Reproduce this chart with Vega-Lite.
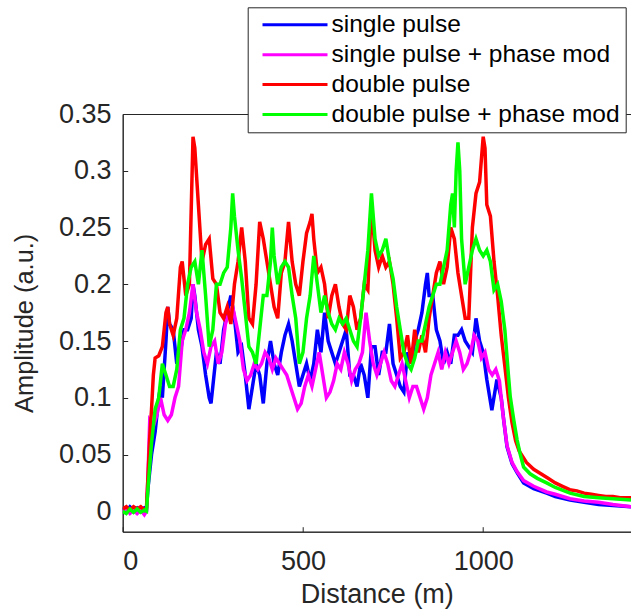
{
  "$schema": "https://vega.github.io/schema/vega-lite/v6.json",
  "autosize": {"type": "none"},
  "padding": {"left": 122.7, "top": 114, "right": 0, "bottom": 77.3},
  "width": 508.3,
  "height": 417.7,
  "background": "white",
  "config": {
    "font": "Liberation Sans",
    "view": {"stroke": "#262626", "strokeWidth": 1},
    "axis": {
      "domainColor": "#262626", "tickColor": "#262626", "labelColor": "#262626", "titleColor": "#262626",
      "labelFont": "Liberation Sans", "titleFont": "Liberation Sans",
      "labelFontSize": 27, "titleFontSize": 27, "titleFontWeight": "normal",
      "grid": false, "tickSize": -5
    }
  },
  "data": {"values": [
    {"s":"single pulse","d":0,"v":0.003},{"s":"single pulse","d":10,"v":0.0},{"s":"single pulse","d":20,"v":0.004},{"s":"single pulse","d":30,"v":0.001},{"s":"single pulse","d":40,"v":0.003},{"s":"single pulse","d":50,"v":0.0},{"s":"single pulse","d":60,"v":0.003},{"s":"single pulse","d":66,"v":0.002},
    {"s":"single pulse","d":70,"v":0.02},{"s":"single pulse","d":80,"v":0.05},{"s":"single pulse","d":90,"v":0.07},{"s":"single pulse","d":100,"v":0.1},{"s":"single pulse","d":105,"v":0.11},{"s":"single pulse","d":110,"v":0.1},{"s":"single pulse","d":120,"v":0.15},{"s":"single pulse","d":125,"v":0.18},{"s":"single pulse","d":130,"v":0.165},{"s":"single pulse","d":140,"v":0.16},{"s":"single pulse","d":150,"v":0.13},{"s":"single pulse","d":160,"v":0.14},{"s":"single pulse","d":170,"v":0.16},{"s":"single pulse","d":180,"v":0.16},{"s":"single pulse","d":190,"v":0.17},{"s":"single pulse","d":195,"v":0.2},{"s":"single pulse","d":200,"v":0.19},{"s":"single pulse","d":210,"v":0.16},{"s":"single pulse","d":220,"v":0.145},{"s":"single pulse","d":230,"v":0.12},{"s":"single pulse","d":240,"v":0.1},{"s":"single pulse","d":245,"v":0.095},{"s":"single pulse","d":250,"v":0.11},{"s":"single pulse","d":260,"v":0.14},{"s":"single pulse","d":270,"v":0.13},{"s":"single pulse","d":280,"v":0.16},{"s":"single pulse","d":290,"v":0.175},{"s":"single pulse","d":300,"v":0.19},{"s":"single pulse","d":310,"v":0.17},{"s":"single pulse","d":320,"v":0.14},{"s":"single pulse","d":330,"v":0.145},{"s":"single pulse","d":340,"v":0.12},{"s":"single pulse","d":350,"v":0.09},{"s":"single pulse","d":360,"v":0.11},{"s":"single pulse","d":370,"v":0.13},{"s":"single pulse","d":380,"v":0.12},{"s":"single pulse","d":390,"v":0.095},{"s":"single pulse","d":400,"v":0.13},{"s":"single pulse","d":410,"v":0.15},{"s":"single pulse","d":420,"v":0.13},{"s":"single pulse","d":430,"v":0.12},{"s":"single pulse","d":440,"v":0.14},{"s":"single pulse","d":450,"v":0.155},{"s":"single pulse","d":460,"v":0.165},{"s":"single pulse","d":470,"v":0.15},{"s":"single pulse","d":480,"v":0.13},{"s":"single pulse","d":490,"v":0.11},{"s":"single pulse","d":500,"v":0.12},{"s":"single pulse","d":510,"v":0.13},{"s":"single pulse","d":520,"v":0.115},{"s":"single pulse","d":530,"v":0.13},{"s":"single pulse","d":540,"v":0.16},{"s":"single pulse","d":550,"v":0.14},{"s":"single pulse","d":560,"v":0.175},{"s":"single pulse","d":570,"v":0.15},{"s":"single pulse","d":580,"v":0.14},{"s":"single pulse","d":590,"v":0.13},{"s":"single pulse","d":600,"v":0.14},{"s":"single pulse","d":610,"v":0.15},{"s":"single pulse","d":620,"v":0.16},{"s":"single pulse","d":630,"v":0.12},{"s":"single pulse","d":640,"v":0.12},{"s":"single pulse","d":650,"v":0.11},{"s":"single pulse","d":660,"v":0.13},{"s":"single pulse","d":670,"v":0.12},{"s":"single pulse","d":680,"v":0.1},{"s":"single pulse","d":690,"v":0.145},{"s":"single pulse","d":700,"v":0.145},{"s":"single pulse","d":710,"v":0.12},{"s":"single pulse","d":720,"v":0.14},{"s":"single pulse","d":730,"v":0.14},{"s":"single pulse","d":740,"v":0.165},{"s":"single pulse","d":750,"v":0.13},{"s":"single pulse","d":760,"v":0.12},{"s":"single pulse","d":770,"v":0.11},{"s":"single pulse","d":780,"v":0.105},{"s":"single pulse","d":790,"v":0.14},{"s":"single pulse","d":800,"v":0.13},{"s":"single pulse","d":810,"v":0.15},{"s":"single pulse","d":820,"v":0.16},{"s":"single pulse","d":830,"v":0.175},{"s":"single pulse","d":840,"v":0.2},{"s":"single pulse","d":845,"v":0.21},{"s":"single pulse","d":850,"v":0.19},{"s":"single pulse","d":860,"v":0.19},{"s":"single pulse","d":870,"v":0.16},{"s":"single pulse","d":880,"v":0.15},{"s":"single pulse","d":890,"v":0.13},{"s":"single pulse","d":900,"v":0.14},{"s":"single pulse","d":910,"v":0.13},{"s":"single pulse","d":920,"v":0.155},{"s":"single pulse","d":930,"v":0.155},{"s":"single pulse","d":940,"v":0.16},{"s":"single pulse","d":950,"v":0.15},{"s":"single pulse","d":960,"v":0.145},{"s":"single pulse","d":970,"v":0.14},{"s":"single pulse","d":980,"v":0.17},{"s":"single pulse","d":990,"v":0.15},{"s":"single pulse","d":1000,"v":0.14},{"s":"single pulse","d":1010,"v":0.116},{"s":"single pulse","d":1024,"v":0.089},{"s":"single pulse","d":1038,"v":0.116},{"s":"single pulse","d":1050,"v":0.1},{"s":"single pulse","d":1057,"v":0.08},{"s":"single pulse","d":1066,"v":0.057},{"s":"single pulse","d":1080,"v":0.042},{"s":"single pulse","d":1094,"v":0.034},{"s":"single pulse","d":1112,"v":0.025},{"s":"single pulse","d":1140,"v":0.02},{"s":"single pulse","d":1176,"v":0.016},{"s":"single pulse","d":1200,"v":0.013},{"s":"single pulse","d":1241,"v":0.01},{"s":"single pulse","d":1280,"v":0.008},{"s":"single pulse","d":1320,"v":0.006},{"s":"single pulse","d":1360,"v":0.005},{"s":"single pulse","d":1410,"v":0.004},

    {"s":"single pulse + phase mod","d":0,"v":0.0},{"s":"single pulse + phase mod","d":10,"v":0.002},{"s":"single pulse + phase mod","d":20,"v":-0.002},{"s":"single pulse + phase mod","d":30,"v":0.001},{"s":"single pulse + phase mod","d":40,"v":-0.002},{"s":"single pulse + phase mod","d":50,"v":0.001},{"s":"single pulse + phase mod","d":60,"v":-0.003},{"s":"single pulse + phase mod","d":66,"v":0.0},
    {"s":"single pulse + phase mod","d":70,"v":0.03},{"s":"single pulse + phase mod","d":75,"v":0.08},{"s":"single pulse + phase mod","d":85,"v":0.075},{"s":"single pulse + phase mod","d":95,"v":0.085},{"s":"single pulse + phase mod","d":105,"v":0.1},{"s":"single pulse + phase mod","d":115,"v":0.085},{"s":"single pulse + phase mod","d":125,"v":0.08},{"s":"single pulse + phase mod","d":135,"v":0.085},{"s":"single pulse + phase mod","d":145,"v":0.1},{"s":"single pulse + phase mod","d":155,"v":0.11},{"s":"single pulse + phase mod","d":165,"v":0.15},{"s":"single pulse + phase mod","d":175,"v":0.16},{"s":"single pulse + phase mod","d":185,"v":0.175},{"s":"single pulse + phase mod","d":195,"v":0.2},{"s":"single pulse + phase mod","d":205,"v":0.175},{"s":"single pulse + phase mod","d":215,"v":0.16},{"s":"single pulse + phase mod","d":225,"v":0.14},{"s":"single pulse + phase mod","d":235,"v":0.13},{"s":"single pulse + phase mod","d":245,"v":0.145},{"s":"single pulse + phase mod","d":255,"v":0.15},{"s":"single pulse + phase mod","d":265,"v":0.13},{"s":"single pulse + phase mod","d":275,"v":0.14},{"s":"single pulse + phase mod","d":285,"v":0.165},{"s":"single pulse + phase mod","d":295,"v":0.175},{"s":"single pulse + phase mod","d":305,"v":0.18},{"s":"single pulse + phase mod","d":315,"v":0.165},{"s":"single pulse + phase mod","d":325,"v":0.15},{"s":"single pulse + phase mod","d":335,"v":0.125},{"s":"single pulse + phase mod","d":345,"v":0.115},{"s":"single pulse + phase mod","d":355,"v":0.12},{"s":"single pulse + phase mod","d":365,"v":0.13},{"s":"single pulse + phase mod","d":375,"v":0.125},{"s":"single pulse + phase mod","d":385,"v":0.13},{"s":"single pulse + phase mod","d":395,"v":0.14},{"s":"single pulse + phase mod","d":405,"v":0.135},{"s":"single pulse + phase mod","d":415,"v":0.125},{"s":"single pulse + phase mod","d":425,"v":0.135},{"s":"single pulse + phase mod","d":435,"v":0.13},{"s":"single pulse + phase mod","d":445,"v":0.125},{"s":"single pulse + phase mod","d":455,"v":0.12},{"s":"single pulse + phase mod","d":465,"v":0.11},{"s":"single pulse + phase mod","d":475,"v":0.1},{"s":"single pulse + phase mod","d":485,"v":0.09},{"s":"single pulse + phase mod","d":495,"v":0.095},{"s":"single pulse + phase mod","d":505,"v":0.11},{"s":"single pulse + phase mod","d":515,"v":0.12},{"s":"single pulse + phase mod","d":525,"v":0.11},{"s":"single pulse + phase mod","d":535,"v":0.125},{"s":"single pulse + phase mod","d":545,"v":0.14},{"s":"single pulse + phase mod","d":555,"v":0.12},{"s":"single pulse + phase mod","d":565,"v":0.1},{"s":"single pulse + phase mod","d":575,"v":0.105},{"s":"single pulse + phase mod","d":585,"v":0.115},{"s":"single pulse + phase mod","d":595,"v":0.13},{"s":"single pulse + phase mod","d":605,"v":0.125},{"s":"single pulse + phase mod","d":615,"v":0.14},{"s":"single pulse + phase mod","d":625,"v":0.13},{"s":"single pulse + phase mod","d":635,"v":0.115},{"s":"single pulse + phase mod","d":645,"v":0.125},{"s":"single pulse + phase mod","d":655,"v":0.13},{"s":"single pulse + phase mod","d":665,"v":0.14},{"s":"single pulse + phase mod","d":675,"v":0.175},{"s":"single pulse + phase mod","d":685,"v":0.15},{"s":"single pulse + phase mod","d":695,"v":0.13},{"s":"single pulse + phase mod","d":705,"v":0.12},{"s":"single pulse + phase mod","d":715,"v":0.13},{"s":"single pulse + phase mod","d":725,"v":0.14},{"s":"single pulse + phase mod","d":735,"v":0.13},{"s":"single pulse + phase mod","d":745,"v":0.115},{"s":"single pulse + phase mod","d":755,"v":0.11},{"s":"single pulse + phase mod","d":765,"v":0.12},{"s":"single pulse + phase mod","d":775,"v":0.13},{"s":"single pulse + phase mod","d":785,"v":0.115},{"s":"single pulse + phase mod","d":795,"v":0.1},{"s":"single pulse + phase mod","d":805,"v":0.11},{"s":"single pulse + phase mod","d":815,"v":0.11},{"s":"single pulse + phase mod","d":825,"v":0.1},{"s":"single pulse + phase mod","d":835,"v":0.09},{"s":"single pulse + phase mod","d":845,"v":0.1},{"s":"single pulse + phase mod","d":855,"v":0.12},{"s":"single pulse + phase mod","d":865,"v":0.13},{"s":"single pulse + phase mod","d":875,"v":0.14},{"s":"single pulse + phase mod","d":885,"v":0.125},{"s":"single pulse + phase mod","d":895,"v":0.14},{"s":"single pulse + phase mod","d":905,"v":0.13},{"s":"single pulse + phase mod","d":915,"v":0.14},{"s":"single pulse + phase mod","d":925,"v":0.15},{"s":"single pulse + phase mod","d":935,"v":0.14},{"s":"single pulse + phase mod","d":945,"v":0.125},{"s":"single pulse + phase mod","d":955,"v":0.13},{"s":"single pulse + phase mod","d":965,"v":0.14},{"s":"single pulse + phase mod","d":975,"v":0.155},{"s":"single pulse + phase mod","d":985,"v":0.15},{"s":"single pulse + phase mod","d":995,"v":0.135},{"s":"single pulse + phase mod","d":1005,"v":0.14},{"s":"single pulse + phase mod","d":1015,"v":0.125},{"s":"single pulse + phase mod","d":1025,"v":0.12},{"s":"single pulse + phase mod","d":1035,"v":0.125},{"s":"single pulse + phase mod","d":1045,"v":0.115},{"s":"single pulse + phase mod","d":1055,"v":0.085},{"s":"single pulse + phase mod","d":1066,"v":0.058},{"s":"single pulse + phase mod","d":1080,"v":0.043},{"s":"single pulse + phase mod","d":1094,"v":0.035},{"s":"single pulse + phase mod","d":1112,"v":0.027},{"s":"single pulse + phase mod","d":1140,"v":0.022},{"s":"single pulse + phase mod","d":1176,"v":0.017},{"s":"single pulse + phase mod","d":1200,"v":0.015},{"s":"single pulse + phase mod","d":1241,"v":0.011},{"s":"single pulse + phase mod","d":1280,"v":0.009},{"s":"single pulse + phase mod","d":1320,"v":0.008},{"s":"single pulse + phase mod","d":1360,"v":0.006},{"s":"single pulse + phase mod","d":1410,"v":0.004},

    {"s":"double pulse","d":0,"v":0.002},{"s":"double pulse","d":10,"v":0.004},{"s":"double pulse","d":20,"v":0.001},{"s":"double pulse","d":30,"v":0.004},{"s":"double pulse","d":40,"v":0.002},{"s":"double pulse","d":50,"v":0.004},{"s":"double pulse","d":60,"v":0.001},{"s":"double pulse","d":66,"v":0.003},
    {"s":"double pulse","d":70,"v":0.03},{"s":"double pulse","d":75,"v":0.065},{"s":"double pulse","d":80,"v":0.09},{"s":"double pulse","d":85,"v":0.12},{"s":"double pulse","d":90,"v":0.135},{"s":"double pulse","d":100,"v":0.137},{"s":"double pulse","d":110,"v":0.145},{"s":"double pulse","d":120,"v":0.175},{"s":"double pulse","d":125,"v":0.18},{"s":"double pulse","d":130,"v":0.165},{"s":"double pulse","d":140,"v":0.155},{"s":"double pulse","d":150,"v":0.17},{"s":"double pulse","d":160,"v":0.215},{"s":"double pulse","d":165,"v":0.22},{"s":"double pulse","d":175,"v":0.19},{"s":"double pulse","d":185,"v":0.2},{"s":"double pulse","d":195,"v":0.33},{"s":"double pulse","d":200,"v":0.32},{"s":"double pulse","d":210,"v":0.27},{"s":"double pulse","d":220,"v":0.22},{"s":"double pulse","d":230,"v":0.235},{"s":"double pulse","d":240,"v":0.24},{"s":"double pulse","d":250,"v":0.205},{"s":"double pulse","d":260,"v":0.2},{"s":"double pulse","d":270,"v":0.175},{"s":"double pulse","d":280,"v":0.17},{"s":"double pulse","d":290,"v":0.18},{"s":"double pulse","d":300,"v":0.165},{"s":"double pulse","d":310,"v":0.2},{"s":"double pulse","d":320,"v":0.22},{"s":"double pulse","d":330,"v":0.25},{"s":"double pulse","d":340,"v":0.22},{"s":"double pulse","d":350,"v":0.17},{"s":"double pulse","d":360,"v":0.165},{"s":"double pulse","d":370,"v":0.2},{"s":"double pulse","d":380,"v":0.255},{"s":"double pulse","d":390,"v":0.24},{"s":"double pulse","d":400,"v":0.22},{"s":"double pulse","d":410,"v":0.2},{"s":"double pulse","d":420,"v":0.18},{"s":"double pulse","d":430,"v":0.17},{"s":"double pulse","d":440,"v":0.21},{"s":"double pulse","d":450,"v":0.22},{"s":"double pulse","d":460,"v":0.255},{"s":"double pulse","d":470,"v":0.22},{"s":"double pulse","d":480,"v":0.2},{"s":"double pulse","d":490,"v":0.19},{"s":"double pulse","d":500,"v":0.22},{"s":"double pulse","d":510,"v":0.245},{"s":"double pulse","d":520,"v":0.255},{"s":"double pulse","d":525,"v":0.262},{"s":"double pulse","d":530,"v":0.24},{"s":"double pulse","d":540,"v":0.21},{"s":"double pulse","d":550,"v":0.215},{"s":"double pulse","d":560,"v":0.2},{"s":"double pulse","d":570,"v":0.17},{"s":"double pulse","d":580,"v":0.19},{"s":"double pulse","d":590,"v":0.2},{"s":"double pulse","d":600,"v":0.18},{"s":"double pulse","d":610,"v":0.165},{"s":"double pulse","d":620,"v":0.16},{"s":"double pulse","d":630,"v":0.19},{"s":"double pulse","d":640,"v":0.18},{"s":"double pulse","d":650,"v":0.16},{"s":"double pulse","d":660,"v":0.17},{"s":"double pulse","d":670,"v":0.2},{"s":"double pulse","d":680,"v":0.195},{"s":"double pulse","d":690,"v":0.27},{"s":"double pulse","d":700,"v":0.23},{"s":"double pulse","d":710,"v":0.215},{"s":"double pulse","d":720,"v":0.225},{"s":"double pulse","d":730,"v":0.215},{"s":"double pulse","d":740,"v":0.22},{"s":"double pulse","d":750,"v":0.2},{"s":"double pulse","d":760,"v":0.17},{"s":"double pulse","d":770,"v":0.135},{"s":"double pulse","d":780,"v":0.14},{"s":"double pulse","d":790,"v":0.155},{"s":"double pulse","d":800,"v":0.13},{"s":"double pulse","d":810,"v":0.16},{"s":"double pulse","d":820,"v":0.14},{"s":"double pulse","d":830,"v":0.155},{"s":"double pulse","d":840,"v":0.14},{"s":"double pulse","d":850,"v":0.17},{"s":"double pulse","d":860,"v":0.19},{"s":"double pulse","d":870,"v":0.21},{"s":"double pulse","d":880,"v":0.22},{"s":"double pulse","d":890,"v":0.2},{"s":"double pulse","d":900,"v":0.215},{"s":"double pulse","d":910,"v":0.25},{"s":"double pulse","d":920,"v":0.24},{"s":"double pulse","d":930,"v":0.21},{"s":"double pulse","d":940,"v":0.19},{"s":"double pulse","d":950,"v":0.17},{"s":"double pulse","d":960,"v":0.17},{"s":"double pulse","d":970,"v":0.25},{"s":"double pulse","d":980,"v":0.28},{"s":"double pulse","d":990,"v":0.29},{"s":"double pulse","d":1000,"v":0.33},{"s":"double pulse","d":1005,"v":0.32},{"s":"double pulse","d":1010,"v":0.27},{"s":"double pulse","d":1020,"v":0.26},{"s":"double pulse","d":1030,"v":0.22},{"s":"double pulse","d":1040,"v":0.19},{"s":"double pulse","d":1050,"v":0.155},{"s":"double pulse","d":1060,"v":0.128},{"s":"double pulse","d":1070,"v":0.1},{"s":"double pulse","d":1080,"v":0.078},{"s":"double pulse","d":1090,"v":0.062},{"s":"double pulse","d":1100,"v":0.053},{"s":"double pulse","d":1120,"v":0.043},{"s":"double pulse","d":1140,"v":0.037},{"s":"double pulse","d":1160,"v":0.033},{"s":"double pulse","d":1180,"v":0.029},{"s":"double pulse","d":1200,"v":0.025},{"s":"double pulse","d":1220,"v":0.022},{"s":"double pulse","d":1240,"v":0.019},{"s":"double pulse","d":1260,"v":0.018},{"s":"double pulse","d":1280,"v":0.016},{"s":"double pulse","d":1300,"v":0.015},{"s":"double pulse","d":1320,"v":0.014},{"s":"double pulse","d":1340,"v":0.013},{"s":"double pulse","d":1360,"v":0.013},{"s":"double pulse","d":1380,"v":0.012},{"s":"double pulse","d":1410,"v":0.012},

    {"s":"double pulse + phase mod","d":0,"v":0.0},{"s":"double pulse + phase mod","d":10,"v":-0.002},{"s":"double pulse + phase mod","d":20,"v":0.002},{"s":"double pulse + phase mod","d":30,"v":-0.001},{"s":"double pulse + phase mod","d":40,"v":0.002},{"s":"double pulse + phase mod","d":50,"v":-0.001},{"s":"double pulse + phase mod","d":60,"v":0.001},{"s":"double pulse + phase mod","d":66,"v":0.0},
    {"s":"double pulse + phase mod","d":70,"v":0.02},{"s":"double pulse + phase mod","d":80,"v":0.06},{"s":"double pulse + phase mod","d":90,"v":0.09},{"s":"double pulse + phase mod","d":100,"v":0.1},{"s":"double pulse + phase mod","d":110,"v":0.13},{"s":"double pulse + phase mod","d":120,"v":0.12},{"s":"double pulse + phase mod","d":130,"v":0.11},{"s":"double pulse + phase mod","d":140,"v":0.11},{"s":"double pulse + phase mod","d":150,"v":0.125},{"s":"double pulse + phase mod","d":160,"v":0.16},{"s":"double pulse + phase mod","d":170,"v":0.17},{"s":"double pulse + phase mod","d":180,"v":0.2},{"s":"double pulse + phase mod","d":190,"v":0.215},{"s":"double pulse + phase mod","d":200,"v":0.22},{"s":"double pulse + phase mod","d":210,"v":0.2},{"s":"double pulse + phase mod","d":220,"v":0.23},{"s":"double pulse + phase mod","d":230,"v":0.19},{"s":"double pulse + phase mod","d":240,"v":0.145},{"s":"double pulse + phase mod","d":250,"v":0.16},{"s":"double pulse + phase mod","d":260,"v":0.2},{"s":"double pulse + phase mod","d":270,"v":0.2},{"s":"double pulse + phase mod","d":280,"v":0.21},{"s":"double pulse + phase mod","d":290,"v":0.215},{"s":"double pulse + phase mod","d":300,"v":0.25},{"s":"double pulse + phase mod","d":305,"v":0.28},{"s":"double pulse + phase mod","d":310,"v":0.26},{"s":"double pulse + phase mod","d":320,"v":0.23},{"s":"double pulse + phase mod","d":330,"v":0.205},{"s":"double pulse + phase mod","d":340,"v":0.175},{"s":"double pulse + phase mod","d":350,"v":0.145},{"s":"double pulse + phase mod","d":360,"v":0.14},{"s":"double pulse + phase mod","d":370,"v":0.13},{"s":"double pulse + phase mod","d":380,"v":0.16},{"s":"double pulse + phase mod","d":390,"v":0.19},{"s":"double pulse + phase mod","d":400,"v":0.19},{"s":"double pulse + phase mod","d":410,"v":0.22},{"s":"double pulse + phase mod","d":415,"v":0.25},{"s":"double pulse + phase mod","d":420,"v":0.225},{"s":"double pulse + phase mod","d":430,"v":0.2},{"s":"double pulse + phase mod","d":440,"v":0.215},{"s":"double pulse + phase mod","d":450,"v":0.22},{"s":"double pulse + phase mod","d":460,"v":0.215},{"s":"double pulse + phase mod","d":470,"v":0.19},{"s":"double pulse + phase mod","d":480,"v":0.17},{"s":"double pulse + phase mod","d":490,"v":0.13},{"s":"double pulse + phase mod","d":500,"v":0.14},{"s":"double pulse + phase mod","d":510,"v":0.17},{"s":"double pulse + phase mod","d":520,"v":0.19},{"s":"double pulse + phase mod","d":530,"v":0.225},{"s":"double pulse + phase mod","d":540,"v":0.2},{"s":"double pulse + phase mod","d":550,"v":0.175},{"s":"double pulse + phase mod","d":560,"v":0.19},{"s":"double pulse + phase mod","d":570,"v":0.175},{"s":"double pulse + phase mod","d":580,"v":0.165},{"s":"double pulse + phase mod","d":590,"v":0.16},{"s":"double pulse + phase mod","d":600,"v":0.17},{"s":"double pulse + phase mod","d":610,"v":0.165},{"s":"double pulse + phase mod","d":620,"v":0.17},{"s":"double pulse + phase mod","d":630,"v":0.16},{"s":"double pulse + phase mod","d":640,"v":0.15},{"s":"double pulse + phase mod","d":650,"v":0.145},{"s":"double pulse + phase mod","d":660,"v":0.17},{"s":"double pulse + phase mod","d":670,"v":0.2},{"s":"double pulse + phase mod","d":680,"v":0.23},{"s":"double pulse + phase mod","d":690,"v":0.28},{"s":"double pulse + phase mod","d":700,"v":0.24},{"s":"double pulse + phase mod","d":710,"v":0.225},{"s":"double pulse + phase mod","d":720,"v":0.23},{"s":"double pulse + phase mod","d":730,"v":0.24},{"s":"double pulse + phase mod","d":740,"v":0.22},{"s":"double pulse + phase mod","d":750,"v":0.205},{"s":"double pulse + phase mod","d":760,"v":0.18},{"s":"double pulse + phase mod","d":770,"v":0.16},{"s":"double pulse + phase mod","d":780,"v":0.14},{"s":"double pulse + phase mod","d":790,"v":0.13},{"s":"double pulse + phase mod","d":800,"v":0.125},{"s":"double pulse + phase mod","d":810,"v":0.135},{"s":"double pulse + phase mod","d":820,"v":0.15},{"s":"double pulse + phase mod","d":830,"v":0.15},{"s":"double pulse + phase mod","d":840,"v":0.165},{"s":"double pulse + phase mod","d":850,"v":0.18},{"s":"double pulse + phase mod","d":860,"v":0.19},{"s":"double pulse + phase mod","d":870,"v":0.2},{"s":"double pulse + phase mod","d":880,"v":0.2},{"s":"double pulse + phase mod","d":890,"v":0.215},{"s":"double pulse + phase mod","d":900,"v":0.23},{"s":"double pulse + phase mod","d":910,"v":0.27},{"s":"double pulse + phase mod","d":915,"v":0.28},{"s":"double pulse + phase mod","d":920,"v":0.25},{"s":"double pulse + phase mod","d":925,"v":0.3},{"s":"double pulse + phase mod","d":930,"v":0.325},{"s":"double pulse + phase mod","d":935,"v":0.3},{"s":"double pulse + phase mod","d":940,"v":0.24},{"s":"double pulse + phase mod","d":950,"v":0.2},{"s":"double pulse + phase mod","d":960,"v":0.215},{"s":"double pulse + phase mod","d":970,"v":0.23},{"s":"double pulse + phase mod","d":980,"v":0.24},{"s":"double pulse + phase mod","d":990,"v":0.23},{"s":"double pulse + phase mod","d":1000,"v":0.225},{"s":"double pulse + phase mod","d":1010,"v":0.23},{"s":"double pulse + phase mod","d":1020,"v":0.22},{"s":"double pulse + phase mod","d":1030,"v":0.195},{"s":"double pulse + phase mod","d":1040,"v":0.2},{"s":"double pulse + phase mod","d":1050,"v":0.185},{"s":"double pulse + phase mod","d":1060,"v":0.16},{"s":"double pulse + phase mod","d":1070,"v":0.12},{"s":"double pulse + phase mod","d":1075,"v":0.101},{"s":"double pulse + phase mod","d":1085,"v":0.08},{"s":"double pulse + phase mod","d":1094,"v":0.063},{"s":"double pulse + phase mod","d":1103,"v":0.05},{"s":"double pulse + phase mod","d":1112,"v":0.039},{"s":"double pulse + phase mod","d":1130,"v":0.033},{"s":"double pulse + phase mod","d":1150,"v":0.029},{"s":"double pulse + phase mod","d":1176,"v":0.025},{"s":"double pulse + phase mod","d":1200,"v":0.021},{"s":"double pulse + phase mod","d":1241,"v":0.016},{"s":"double pulse + phase mod","d":1280,"v":0.013},{"s":"double pulse + phase mod","d":1320,"v":0.012},{"s":"double pulse + phase mod","d":1360,"v":0.011},{"s":"double pulse + phase mod","d":1410,"v":0.01}
  ]},
  "mark": {"type": "line", "strokeWidth": 3.5, "clip": true},
  "encoding": {
    "x": {"field": "d", "type": "quantitative", "scale": {"domain": [0, 1410], "nice": false},
      "axis": {"title": "Distance (m)", "values": [0, 500, 1000], "format": "d", "labelPadding": 21.5, "titlePadding": 7}},
    "y": {"field": "v", "type": "quantitative", "scale": {"domain": [-0.018, 0.35], "nice": false, "zero": false},
      "axis": {"title": "Amplitude (a.u.)", "titleFontSize": 25.4, "values": [0, 0.05, 0.1, 0.15, 0.2, 0.25, 0.3, 0.35], "format": "~g", "labelPadding": 16.7, "titlePadding": 21}},
    "color": {"field": "s", "type": "nominal",
      "scale": {"domain": ["single pulse", "single pulse + phase mod", "double pulse", "double pulse + phase mod"], "range": ["#0000ff", "#ff00ff", "#ff0000", "#00ff00"]},
      "legend": {"title": null, "orient": "none", "legendX": 125, "legendY": -106.7, "padding": 5.5,
        "symbolType": "stroke", "symbolSize": 4225, "symbolStrokeWidth": 3, "symbolOffset": 7.8,
        "clipHeight": 24, "rowPadding": 4.9, "labelOffset": 2.5, "labelFontSize": 24.5, "labelFont": "Liberation Sans", "labelColor": "#000000",
        "strokeColor": "#262626", "fillColor": "#ffffff", "cornerRadius": 0, "labelLimit": 500}}
  }
}
